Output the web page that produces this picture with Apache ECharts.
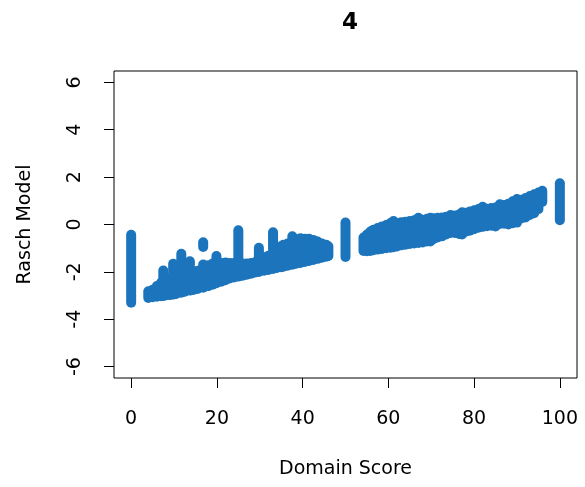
<!DOCTYPE html>
<html>
<head>
<meta charset="utf-8">
<script src="https://cdn.jsdelivr.net/npm/echarts@6/dist/echarts.min.js"></script>
<style>
html,body{margin:0;padding:0;background:#fff;}
#chart{width:585px;height:487px;}
</style>
</head>
<body>
<div id="chart"></div>
<script>
// Chart title and axis names
var chartTitle = '4';
var xName = 'Domain Score';
var yName = 'Rasch Model';

// Tick labels
var xTicks = [0, 20, 40, 60, 80, 100];
var yTicks = [-6, -4, -2, 0, 2, 4, 6];

// Each entry is one vertical column of overlapping points at a single score:
// x = Domain Score, low / high = lowest and highest Rasch value in that column
var columnX = [
  0,
  4, 5, 6, 7, 7.5, 8, 9, 9.8, 10.5, 11.7, 12.5, 13.7, 14.5, 15.5, 16.8, 16.8, 18, 19, 19.9,
  21, 22, 23, 24, 25, 26, 27, 28, 29, 29.8, 31, 32, 33.1, 34, 35, 35.5, 36.5, 37.6, 38.5,
  39.5, 40.5, 41.5, 42.5, 43.5, 44.5, 45.5, 46,
  50,
  54.2, 55, 55.8, 56.5, 57.5, 58.5, 59.5, 60.5, 61.2, 62, 63, 64, 65, 66, 67, 68, 69, 69.8,
  70.5, 71.5, 72.5, 73.5, 74.5, 75.5, 76.5, 77.2, 78, 79, 80, 81, 82, 83, 84, 85, 86, 87,
  88, 89, 90, 91, 92, 93, 94, 95, 95.9,
  100
];
var columnLow = [
  -3.30,
  -3.10, -3.07, -3.05, -3.03, -3.02, -3.00, -2.98, -2.96, -2.93, -2.88, -2.84, -2.79, -2.76, -2.72, -2.67, -0.95, -2.60, -2.54, -2.48,
  -2.42, -2.35, -2.28, -2.24, -2.20, -2.16, -2.12, -2.08, -2.03, -2.00, -1.95, -1.92, -1.88, -1.84, -1.80, -1.78, -1.74, -1.70, -1.66,
  -1.62, -1.58, -1.54, -1.50, -1.45, -1.40, -1.36, -1.33,
  -1.37,
  -1.12, -1.13, -1.12, -1.09, -1.06, -1.03, -1.00, -0.98, -0.96, -0.93, -0.88, -0.85, -0.82, -0.80, -0.78, -0.76, -0.72, -0.72,
  -0.62, -0.55, -0.50, -0.42, -0.36, -0.36, -0.40, -0.42, -0.30, -0.26, -0.20, -0.14, -0.10, -0.07, -0.05, -0.08, 0.02, 0.03,
  0.00, 0.05, 0.08, 0.25, 0.30, 0.40, 0.48, 0.65, 0.95,
  0.18
];
var columnHigh = [
  -0.43,
  -2.82, -2.75, -2.60, -2.45, -1.94, -2.35, -2.25, -1.66, -2.10, -1.24, -2.05, -1.55, -2.02, -1.95, -1.69, -0.75, -1.72, -1.65, -1.33,
  -1.62, -1.60, -1.62, -1.62, -0.24, -1.65, -1.65, -1.62, -1.58, -0.98, -1.38, -1.32, -0.33, -0.95, -0.92, -0.86, -0.80, -0.50, -0.62,
  -0.58, -0.60, -0.60, -0.65, -0.72, -0.80, -0.86, -0.92,
  0.08,
  -0.55, -0.42, -0.30, -0.22, -0.15, -0.08, -0.02, 0.06, 0.15, 0.05, 0.10, 0.12, 0.15, 0.18, 0.28, 0.20, 0.24, 0.28,
  0.26, 0.28, 0.30, 0.33, 0.40, 0.38, 0.42, 0.52, 0.50, 0.55, 0.60, 0.65, 0.75, 0.66, 0.70, 0.72, 0.85, 0.82,
  0.88, 0.98, 1.08, 1.05, 1.12, 1.20, 1.28, 1.35, 1.42,
  1.74
];

var pointColor = '#1c75bc';
var fontFamily = '"DejaVu Sans", "Liberation Sans", Arial, sans-serif';

var columnData = columnX.map(function (x, i) {
  return [x, columnLow[i], columnHigh[i]];
});

var chart = echarts.init(document.getElementById('chart'), null, { renderer: 'canvas' });

chart.setOption({
  animation: false,
  backgroundColor: '#ffffff',
  title: {
    text: chartTitle,
    left: 345,
    top: 7,
    textAlign: 'center',
    textStyle: { fontFamily: fontFamily, fontWeight: 'bold', fontSize: 23, color: '#000' }
  },
  grid: {
    left: 114, right: 8, top: 71, bottom: 109,
    show: true, borderColor: '#000', borderWidth: 1, backgroundColor: 'transparent'
  },
  xAxis: {
    type: 'value',
    min: -4, max: 104,
    name: xName,
    nameLocation: 'middle',
    nameGap: 82,
    nameTextStyle: { fontFamily: fontFamily, fontSize: 19, color: '#000' },
    axisLine: { show: false, onZero: false },
    splitLine: { show: false },
    axisTick: { show: true, inside: false, length: 10, customValues: xTicks, lineStyle: { color: '#000', width: 1 } },
    axisLabel: { show: true, margin: 32, customValues: xTicks, fontFamily: fontFamily, fontSize: 19, color: '#000' }
  },
  yAxis: {
    type: 'value',
    min: -6.48, max: 6.48,
    name: yName,
    nameLocation: 'middle',
    nameGap: 79,
    nameRotate: 90,
    nameTextStyle: { fontFamily: fontFamily, fontSize: 19, color: '#000' },
    axisLine: { show: false, onZero: false },
    splitLine: { show: false },
    axisTick: { show: true, inside: false, length: 10, customValues: yTicks, lineStyle: { color: '#000', width: 1 } },
    axisLabel: { show: true, margin: 29, rotate: 90, customValues: yTicks, fontFamily: fontFamily, fontSize: 19, color: '#000' }
  },
  series: [{
    type: 'custom',
    clip: true,
    encode: { x: 0, y: [1, 2] },
    data: columnData,
    renderItem: function (params, api) {
      var p1 = api.coord([api.value(0), api.value(1)]);
      var p2 = api.coord([api.value(0), api.value(2)]);
      if (Math.abs(p1[1] - p2[1]) < 0.5) { p2 = [p2[0], p2[1] - 0.5]; }
      return {
        type: 'line',
        shape: { x1: p1[0], y1: p1[1], x2: p2[0], y2: p2[1] },
        style: { stroke: pointColor, lineWidth: 10, lineCap: 'round', fill: null }
      };
    }
  }]
});
</script>
</body>
</html>
